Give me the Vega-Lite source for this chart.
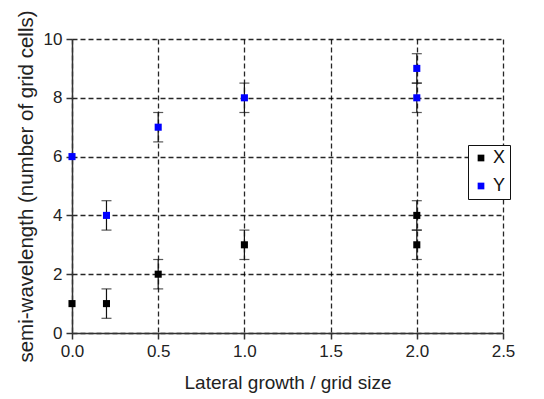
{
  "$schema": "https://vega.github.io/schema/vega-lite/v6.json",
  "width": 431,
  "height": 294,
  "autosize": {"type": "none"},
  "padding": {"left": 72, "top": 39, "right": 41, "bottom": 66},
  "background": "white",
  "config": {
    "view": {"stroke": null},
    "font": "Liberation Sans",
    "axis": {
      "labelFont": "Liberation Sans",
      "titleFont": "Liberation Sans",
      "labelFontSize": 17,
      "titleFontSize": 19,
      "titleFontWeight": "normal",
      "labelColor": "#222",
      "titleColor": "#222",
      "domainColor": "#333",
      "tickColor": "#333",
      "domainWidth": 1.5,
      "tickWidth": 1.5,
      "tickSize": 6,
      "gridColor": "#000",
      "gridDash": [5, 3],
      "gridWidth": 1.3,
      "gridOpacity": 0.85
    }
  },
  "data": {
    "values": [
      {"x": 0.0, "v": 1, "s": "X", "lo": null, "hi": null},
      {"x": 0.2, "v": 1, "s": "X", "lo": 0.5, "hi": 1.5},
      {"x": 0.5, "v": 2, "s": "X", "lo": 1.5, "hi": 2.5},
      {"x": 1.0, "v": 3, "s": "X", "lo": 2.5, "hi": 3.5},
      {"x": 2.0, "v": 3, "s": "X", "lo": 2.5, "hi": 3.5},
      {"x": 2.0, "v": 4, "s": "X", "lo": 3.5, "hi": 4.5},
      {"x": 0.0, "v": 6, "s": "Y", "lo": null, "hi": null},
      {"x": 0.2, "v": 4, "s": "Y", "lo": 3.5, "hi": 4.5},
      {"x": 0.5, "v": 7, "s": "Y", "lo": 6.5, "hi": 7.5},
      {"x": 1.0, "v": 8, "s": "Y", "lo": 7.5, "hi": 8.5},
      {"x": 2.0, "v": 8, "s": "Y", "lo": 7.5, "hi": 8.5},
      {"x": 2.0, "v": 9, "s": "Y", "lo": 8.5, "hi": 9.5}
    ]
  },
  "encoding": {
    "x": {
      "field": "x", "type": "quantitative",
      "scale": {"domain": [0, 2.5], "nice": false, "zero": false},
      "axis": {"title": "Lateral growth / grid size", "values": [0, 0.5, 1, 1.5, 2, 2.5], "format": ".1f", "labelPadding": 4, "titlePadding": 14, "labelFlush": false}
    }
  },
  "layer": [
    {
      "transform": [{"filter": "datum.lo != null"}],
      "mark": {"type": "rule", "color": "#111", "strokeWidth": 1.2},
      "encoding": {
        "y": {"field": "lo", "type": "quantitative", "scale": {"domain": [0, 10], "nice": false},
          "axis": {"title": "semi-wavelength (number of grid cells)", "titleFontSize": 20.5, "values": [0, 2, 4, 6, 8, 10], "labelPadding": 4, "titlePadding": 7}},
        "y2": {"field": "hi"}
      }
    },
    {
      "transform": [{"filter": "datum.lo != null"}],
      "mark": {"type": "tick", "orient": "horizontal", "color": "#111", "size": 10, "thickness": 1.2},
      "encoding": {"y": {"field": "lo", "type": "quantitative"}}
    },
    {
      "transform": [{"filter": "datum.lo != null"}],
      "mark": {"type": "tick", "orient": "horizontal", "color": "#111", "size": 10, "thickness": 1.2},
      "encoding": {"y": {"field": "hi", "type": "quantitative"}}
    },
    {
      "mark": {"type": "point", "shape": "square", "filled": true, "size": 50, "opacity": 1},
      "encoding": {
        "y": {"field": "v", "type": "quantitative"},
        "color": {
          "field": "s", "type": "nominal",
          "scale": {"domain": ["X", "Y"], "range": ["#000000", "#0000ff"]},
          "legend": {
            "title": null, "orient": "none", "legendX": 396, "legendY": 106,
            "fillColor": "white", "strokeColor": "#111", "padding": 4,
            "labelFont": "Liberation Sans", "labelFontSize": 18, "labelColor": "#111",
            "symbolType": "square", "symbolSize": 45, "rowPadding": 10, "labelOffset": 3
          }
        }
      }
    }
  ]
}
